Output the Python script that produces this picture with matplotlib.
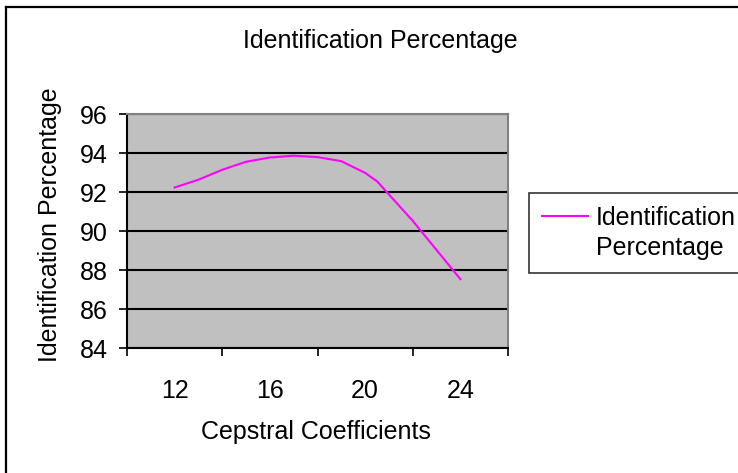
import matplotlib
matplotlib.use('Agg')
import matplotlib.pyplot as plt
from matplotlib.lines import Line2D

plt.rcParams['font.family'] = ['Liberation Sans', 'DejaVu Sans']

# data
coeffs = [12, 13, 14, 15, 16, 17, 18, 19, 20, 20.5, 22, 24]
ident_pct = [92.23, 92.63, 93.14, 93.55, 93.77, 93.86, 93.79, 93.58, 92.98, 92.55, 90.52, 87.53]
yticks = [84, 86, 88, 90, 92, 94, 96]
xlabel_pos = [12, 16, 20, 24]
xtick_marks = [10, 14, 18, 22, 26]

W, H = 738, 473
FS = 18
fig = plt.figure(figsize=(W / 100, H / 100), dpi=100)

# outer chart border, only top and left are inside the picture
top = 1 - 7.5 / H
left = 6 / W
fig.add_artist(Line2D([left, 1.1], [top, top], transform=fig.transFigure, color='black', linewidth=1.6))
fig.add_artist(Line2D([left, left], [-0.1, top], transform=fig.transFigure, color='black', linewidth=1.6))

ax = fig.add_axes([127 / W, (H - 348) / H, 381 / W, 234 / H])
ax.set_facecolor('#C0C0C0')

line, = ax.plot(coeffs, ident_pct, color='#FF00FF', linewidth=1.5)

ax.set_xlim(10, 26)
ax.set_ylim(84, 96)
ax.set_yticks(yticks)
ax.yaxis.grid(True, color='black', linewidth=1.5)
ax.set_axisbelow(True)

ax.set_xticks(xtick_marks)
ax.set_xticklabels([])
ax.set_xticks(xlabel_pos, minor=True)
ax.set_xticklabels([str(v) for v in xlabel_pos], minor=True)
ax.tick_params(axis='x', which='major', direction='out', length=5.5, width=1.2, color='black')
ax.tick_params(axis='x', which='minor', length=0, pad=22, labelsize=FS)
ax.tick_params(axis='y', direction='out', length=6, width=1.2, pad=8, labelsize=FS)

for s in ['left', 'bottom']:
    ax.spines[s].set_color('black')
    ax.spines[s].set_linewidth(1.5)
for s in ['top', 'right']:
    ax.spines[s].set_color('#808080')
    ax.spines[s].set_linewidth(1.5)

fig.text(380 / W, 1 - 41 / H, 'Identification Percentage', ha='center', va='center', fontsize=FS)
fig.text(316 / W, 1 - 432 / H, 'Cepstral Coefficients', ha='center', va='center', fontsize=FS)
fig.text(50 / W, 1 - 225 / H, 'Identification Percentage', ha='center', va='center',
         rotation=90, fontsize=FS)

# legend box runs past the right edge of the picture, as in the original
blank = Line2D([], [], color='none')
leg = fig.legend([line, blank], ['Identification', 'Percentage'], loc='upper left',
                 bbox_to_anchor=(529 / W, 1 - 193 / H - 0.2, 240 / W, 0.2),
                 bbox_transform=fig.transFigure, mode='expand',
                 borderaxespad=0, frameon=True, fancybox=False, edgecolor='black',
                 fontsize=FS, handlelength=1.85, handletextpad=0.32, labelspacing=0.26,
                 borderpad=0.52)
leg.get_frame().set_linewidth(1.2)

fig.savefig('out.png', dpi=100)
